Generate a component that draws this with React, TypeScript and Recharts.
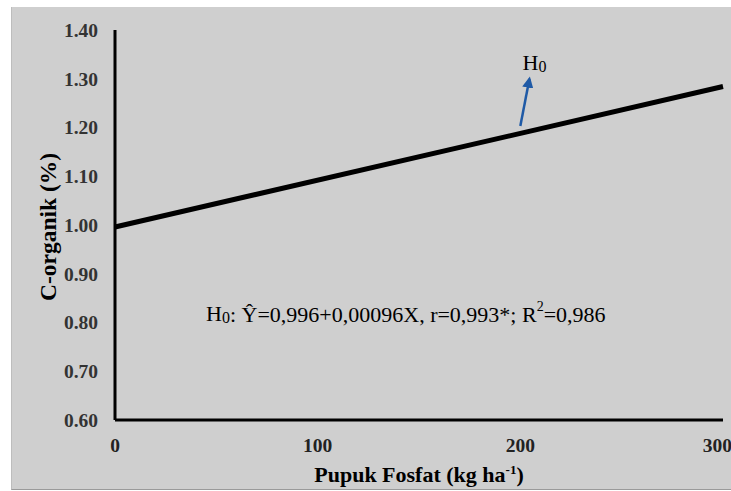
import { Label, Line, LineChart, ReferenceDot, ReferenceLine, XAxis, YAxis } from 'recharts'

const doses = [0, 300]
const cOrganik = [0.996, 1.284]
const xTicks = [0, 100, 200, 300]
const yTicks = [0.6, 0.7, 0.8, 0.9, 1.0, 1.1, 1.2, 1.3, 1.4]

// arrow pointing from the line to the H0 label
const arrowFrom = { x: 200, y: 1.203 }
const arrowTo = { x: 204.5, y: 1.3 }
const h0Label = { x: 207, y: 1.334 }
const eqLabel = { x: 143.5, y: 0.818 }

const data = doses.map((dose, i) => ({ dose, value: cOrganik[i] }))

const serif = 'Liberation Serif'
const textStyle = { fontFamily: serif }

export default function App() {
  return (
    <div style={{ position: 'absolute', left: 0, top: 0, width: 731, height: 491, background: '#fff', fontFamily: serif }}>
      <div
        style={{
          position: 'absolute',
          left: 11,
          top: 7,
          width: 720,
          height: 482,
          background: '#cfcfcf',
          borderBottom: '1px solid #9a9a9a',
          borderLeft: '1px solid #bdbdbd',
          overflow: 'hidden'
        }}
      >
        <LineChart
          width={720}
          height={482}
          data={data}
          margin={{ top: 23, right: 9, left: 0, bottom: 0 }}
          style={textStyle}
        >
          <defs>
            <marker id="arrowHead" viewBox="0 0 10 10" refX="8" refY="5" markerWidth="4.5" markerHeight="4.5" orient="auto">
              <path d="M0,0 L10,5 L0,10 z" fill="#1f5aa6" />
            </marker>
          </defs>
          <XAxis
            dataKey="dose"
            type="number"
            domain={[0, 300]}
            ticks={xTicks}
            height={69}
            axisLine={{ stroke: '#000', strokeWidth: 3 }}
            tickLine={false}
            tickSize={0}
            tickMargin={18}
            tick={{ fill: '#222', fontWeight: 700, fontSize: 19.5, style: textStyle }}
          >
            <Label
              content={({ viewBox }: any) => (
                <text
                  x={viewBox.x + viewBox.width / 2}
                  y={475}
                  textAnchor="middle"
                  style={textStyle}
                  fontWeight={700}
                  fontSize={22}
                  fill="#000"
                >
                  Pupuk Fosfat (kg ha
                  <tspan dy={-8} fontSize={13}>-1</tspan>
                  <tspan dy={8}>)</tspan>
                </text>
              )}
            />
          </XAxis>
          <YAxis
            type="number"
            domain={[0.6, 1.4]}
            ticks={yTicks}
            width={103}
            axisLine={{ stroke: '#000', strokeWidth: 3 }}
            tickLine={false}
            tickSize={0}
            tickMargin={17}
            tickFormatter={(v: number) => v.toFixed(2)}
            tick={{ fill: '#333', fontWeight: 700, fontSize: 19.5, style: textStyle }}
          >
            <Label
              content={({ viewBox }: any) => {
                const cx = 36
                const cy = viewBox.y + viewBox.height / 2 + 2
                return (
                  <text
                    x={cx}
                    y={cy}
                    transform={`rotate(-90, ${cx}, ${cy})`}
                    textAnchor="middle"
                    dominantBaseline="central"
                    style={textStyle}
                    fontWeight={700}
                    fontSize={23.5}
                    fill="#000"
                  >
                    C-organik (%)
                  </text>
                )
              }}
            />
          </YAxis>
          <Line
            dataKey="value"
            type="linear"
            stroke="#000"
            strokeWidth={5}
            dot={false}
            activeDot={false}
            isAnimationActive={false}
          />
          <ReferenceLine
            segment={[arrowFrom, arrowTo]}
            stroke="#1f5aa6"
            strokeWidth={2.5}
            markerEnd="url(#arrowHead)"
            ifOverflow="visible"
          />
          <ReferenceDot
            x={h0Label.x}
            y={h0Label.y}
            r={0}
            stroke="none"
            fill="none"
            label={{
              content: ({ viewBox }: any) => (
                <text x={viewBox.x} y={viewBox.y} textAnchor="middle" dominantBaseline="central" style={textStyle} fontSize={22} fill="#000">
                  H<tspan fontSize={16} dy={4}>0</tspan>
                </text>
              )
            }}
          />
          <ReferenceDot
            x={eqLabel.x}
            y={eqLabel.y}
            r={0}
            stroke="none"
            fill="none"
            label={{
              content: ({ viewBox }: any) => (
                <text x={viewBox.x} y={viewBox.y} textAnchor="middle" dominantBaseline="central" style={textStyle} fontSize={22} fill="#000">
                  H<tspan fontSize={16} dy={3}>0</tspan>
                  <tspan dy={-3}>: Ŷ=0,996+0,00096X, r=0,993*; R</tspan>
                  <tspan fontSize={14} dy={-8}>2</tspan>
                  <tspan dy={8}>=0,986</tspan>
                </text>
              )
            }}
          />
        </LineChart>
      </div>
    </div>
  )
}
